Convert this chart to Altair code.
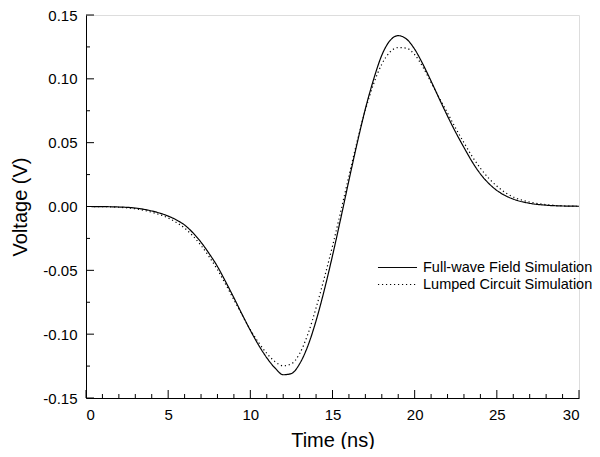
import altair as alt
import pandas as pd

# Time axis (ns)
t_full = [0, 1, 2, 3, 4, 5, 5.5, 6, 6.5, 7, 7.5, 8, 8.5, 9, 9.5, 10, 10.5, 11, 11.5, 12,
          12.5, 13, 13.5, 14, 14.5, 15, 15.5, 16, 16.5, 17, 17.5, 18, 18.5, 19, 19.5, 20,
          20.5, 21, 21.5, 22, 22.5, 23, 23.5, 24, 24.5, 25, 25.5, 26, 27, 28, 29, 30]

# Full-wave field simulation (V)
v_full = [0, -0.0001, -0.0004, -0.0012, -0.0035, -0.0075, -0.0105, -0.0145, -0.0205, -0.028,
          -0.037, -0.047, -0.059, -0.0715, -0.0845, -0.097, -0.1085, -0.1185, -0.1265, -0.1318,
          -0.1308, -0.1232, -0.1092, -0.0895, -0.0655, -0.0385, -0.0095, 0.0205, 0.0495, 0.0765,
          0.0995, 0.1185, 0.1300, 0.1338, 0.1312, 0.1232, 0.1115, 0.0982, 0.0843, 0.0708, 0.0580,
          0.0462, 0.0350, 0.0255, 0.0182, 0.0126, 0.0086, 0.0058, 0.0025, 0.0010, 0.0004, 0.0002]

# Lumped circuit simulation (V)
v_lumped = [0, -0.0001, -0.0006, -0.0018, -0.0045, -0.0090, -0.0125, -0.0170, -0.0230, -0.0305,
            -0.0395, -0.0495, -0.0610, -0.0730, -0.0850, -0.0965, -0.1065, -0.1150, -0.1215, -0.1248,
            -0.1232, -0.1152, -0.1000, -0.0795, -0.0560, -0.0310, -0.0040, 0.0240, 0.0510, 0.0755,
            0.0960, 0.1115, 0.1210, 0.1245, 0.1240, 0.1190, 0.1092, 0.0972, 0.0850, 0.0732, 0.0612,
            0.0500, 0.0392, 0.0300, 0.0222, 0.0160, 0.0110, 0.0075, 0.0035, 0.0015, 0.0005, 0.0002]

series_names = ["Full-wave Field Simulation", "Lumped Circuit Simulation"]

x_major = [0, 5, 10, 15, 20, 25, 30]
x_minor = [v for v in range(0, 31) if v % 5 != 0]
y_major = [-0.15, -0.10, -0.05, 0.00, 0.05, 0.10, 0.15]
y_minor = [-0.125, -0.075, -0.025, 0.025, 0.075, 0.125]

rows = []
for name, vals in zip(series_names, [v_full, v_lumped]):
    for t, v in zip(t_full, vals):
        rows.append({"t": t, "v": v, "series": name})
df = pd.DataFrame(rows)

W, H = 493, 383
FONT = "Liberation Sans"

xs = alt.Scale(domain=[0, 30], nice=False, zero=False)
ys = alt.Scale(domain=[-0.15, 0.15], nice=False, zero=False)

ylabel_expr = "datum.value < -0.0001 ? '-' + format(-datum.value, '.2f') : format(abs(datum.value), '.2f')"

lines = alt.Chart(df).mark_line(color="black", strokeWidth=1.2, interpolate="monotone").encode(
    x=alt.X("t:Q", scale=xs,
            axis=alt.Axis(title="Time (ns)", values=x_major, ticks=False, grid=False,
                          domainColor="black", domainWidth=1, labelFontSize=15,
                          labelColor="black", labelFont=FONT, labelPadding=9,
                          titleFont=FONT, titleFontSize=20, titleFontWeight="normal",
                          titleColor="black", titlePadding=8)),
    y=alt.Y("v:Q", scale=ys,
            axis=alt.Axis(title="Voltage (V)", values=y_major, labelExpr=ylabel_expr, ticks=False,
                          grid=False, domainColor="black", domainWidth=1, labelFontSize=15,
                          labelColor="black", labelFont=FONT, labelPadding=9,
                          titleFont=FONT, titleFontSize=20, titleFontWeight="normal",
                          titleColor="black", titlePadding=12)),
    strokeDash=alt.StrokeDash("series:N",
                              scale=alt.Scale(domain=series_names, range=[[1, 0], [1.2, 2.8]]),
                              legend=alt.Legend(title=None, orient="none", legendX=303,
                                                legendY=244, labelFontSize=14.5, labelFont=FONT,
                                                labelColor="black", symbolType="M-2.44,0H2.44",
                                                symbolStrokeColor="black", symbolStrokeWidth=1,
                                                symbolSize=256, labelOffset=17, labelLimit=0,
                                                rowPadding=2, padding=0)),
    detail="series:N",
)

tick_x_major = alt.Chart(pd.DataFrame({"t": x_major})).mark_rule(color="black", strokeWidth=1).encode(
    x=alt.X("t:Q", scale=xs), y=alt.value(H), y2=alt.value(H - 8))
tick_x_minor = alt.Chart(pd.DataFrame({"t": x_minor})).mark_rule(color="black", strokeWidth=1).encode(
    x=alt.X("t:Q", scale=xs), y=alt.value(H), y2=alt.value(H - 4))
tick_y_major = alt.Chart(pd.DataFrame({"v": y_major})).mark_rule(color="black", strokeWidth=1).encode(
    y=alt.Y("v:Q", scale=ys), x=alt.value(0), x2=alt.value(8))
tick_y_minor = alt.Chart(pd.DataFrame({"v": y_minor})).mark_rule(color="black", strokeWidth=1).encode(
    y=alt.Y("v:Q", scale=ys), x=alt.value(0), x2=alt.value(4))

chart = alt.layer(lines, tick_x_major, tick_x_minor, tick_y_major, tick_y_minor).properties(
    width=W, height=H,
    autosize=alt.AutoSizeParams(type="none"),
    padding={"left": 78, "top": 7, "right": 13, "bottom": 51},
).configure_view(stroke=None).configure(background="white")

chart.save("out.html", embed_options={"renderer": "svg", "actions": False})
